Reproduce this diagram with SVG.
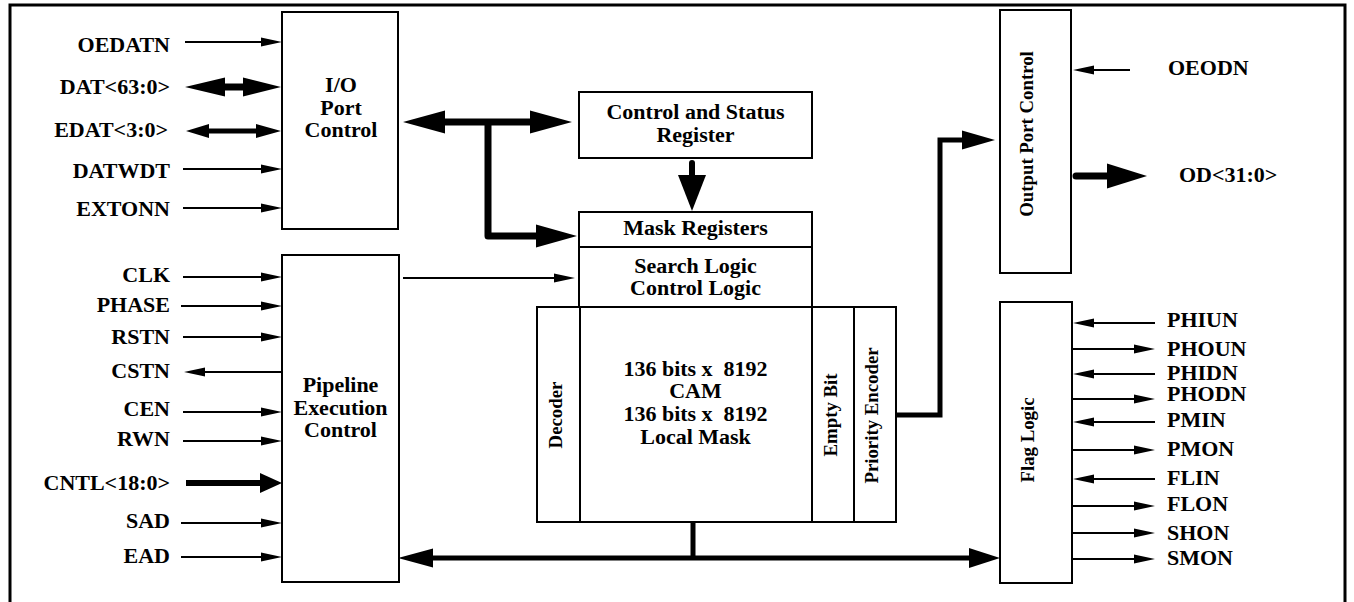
<svg xmlns="http://www.w3.org/2000/svg" width="1354" height="602" viewBox="0 0 1354 602">
<style>
.t{font-family:"Liberation Serif","Times New Roman",serif;font-weight:bold;font-size:20px;fill:#000}
.r{font-family:"Liberation Serif","Times New Roman",serif;font-weight:bold;font-size:18.8px;fill:#000}
.box{fill:#fff;stroke:#000;stroke-width:2}
.thin{fill:none;stroke:#000;stroke-width:2}
.bus{fill:none;stroke:#000}
.head{fill:#000;stroke:none}
</style>
<defs>
<marker id="ah" markerUnits="userSpaceOnUse" markerWidth="21" markerHeight="9" refX="15" refY="4.5" orient="auto" overflow="visible">
<path d="M0,0 L21,4.5 L0,9 Z" fill="#000"/>
</marker>
</defs>
<rect width="1354" height="602" fill="#fff"/>
<path d="M10,602 V5 H1345 V602" fill="none" stroke="#000" stroke-width="3"/>

<g id="io-port-control">
<rect class="box" x="282" y="12" width="116" height="217"/>
<text class="t" text-anchor="middle" transform="translate(341 92) scale(1.1 1)">I/O</text>
<text class="t" text-anchor="middle" transform="translate(341 115) scale(1.1 1)">Port</text>
<text class="t" text-anchor="middle" transform="translate(341 137) scale(1.1 1)">Control</text>
</g>

<g id="pipeline-execution-control">
<rect class="box" x="282" y="255" width="117" height="327"/>
<text class="t" text-anchor="middle" transform="translate(340.5 392) scale(1.1 1)">Pipeline</text>
<text class="t" text-anchor="middle" transform="translate(340.5 415) scale(1.1 1)">Execution</text>
<text class="t" text-anchor="middle" transform="translate(340.5 437) scale(1.1 1)">Control</text>
</g>

<g id="control-status-register">
<rect class="box" x="579" y="92" width="233" height="66"/>
<text class="t" text-anchor="middle" transform="translate(695.5 119) scale(1.1 1)">Control and Status</text>
<text class="t" text-anchor="middle" transform="translate(695.5 142) scale(1.1 1)">Register</text>
</g>

<g id="mask-registers">
<rect class="box" x="579" y="212" width="233" height="35"/>
<text class="t" text-anchor="middle" transform="translate(695.5 235) scale(1.1 1)">Mask Registers</text>
</g>

<g id="search-control-logic">
<rect class="box" x="579" y="247" width="233" height="60"/>
<text class="t" text-anchor="middle" transform="translate(695.5 273) scale(1.1 1)">Search Logic</text>
<text class="t" text-anchor="middle" transform="translate(695.5 295) scale(1.1 1)">Control Logic</text>
</g>

<g id="decoder">
<rect class="box" x="537" y="307" width="43" height="215"/>
<text class="r" text-anchor="middle" transform="translate(562 415) rotate(-90)">Decoder</text>
</g>

<g id="cam-array">
<rect class="box" x="580" y="307" width="232" height="215"/>
<text class="t" text-anchor="middle" xml:space="preserve" style="white-space:pre" transform="translate(695.5 376) scale(1.1 1)">136 bits x  8192</text>
<text class="t" text-anchor="middle" transform="translate(695.5 398) scale(1.1 1)">CAM</text>
<text class="t" text-anchor="middle" xml:space="preserve" style="white-space:pre" transform="translate(695.5 421) scale(1.1 1)">136 bits x  8192</text>
<text class="t" text-anchor="middle" transform="translate(695.5 444) scale(1.1 1)">Local Mask</text>
</g>

<g id="empty-bit">
<rect class="box" x="812" y="307" width="42" height="215"/>
<text class="r" text-anchor="middle" transform="translate(837 415) rotate(-90)">Empty Bit</text>
</g>

<g id="priority-encoder">
<rect class="box" x="854" y="307" width="42" height="215"/>
<text class="r" text-anchor="middle" transform="translate(878 415.5) rotate(-90)">Priority Encoder</text>
</g>

<g id="output-port-control">
<rect class="box" x="1000" y="10" width="71" height="263"/>
<text class="r" text-anchor="middle" transform="translate(1033 134) rotate(-90)">Output Port Control</text>
</g>

<g id="flag-logic">
<rect class="box" x="1000" y="302" width="72" height="281"/>
<text class="r" text-anchor="middle" transform="translate(1034 440) rotate(-90)">Flag Logic</text>
</g>

<g id="labels">
<text class="t" text-anchor="end" transform="translate(170 52) scale(1.1 1)">OEDATN</text>
<text class="t" text-anchor="end" transform="translate(170 94) scale(1.1 1)">DAT&lt;63:0&gt;</text>
<text class="t" text-anchor="end" transform="translate(168 137) scale(1.1 1)">EDAT&lt;3:0&gt;</text>
<text class="t" text-anchor="end" transform="translate(170 178) scale(1.1 1)">DATWDT</text>
<text class="t" text-anchor="end" transform="translate(170 216) scale(1.1 1)">EXTONN</text>
<text class="t" text-anchor="end" transform="translate(170 282) scale(1.1 1)">CLK</text>
<text class="t" text-anchor="end" transform="translate(170 312) scale(1.1 1)">PHASE</text>
<text class="t" text-anchor="end" transform="translate(170 344) scale(1.1 1)">RSTN</text>
<text class="t" text-anchor="end" transform="translate(170 378) scale(1.1 1)">CSTN</text>
<text class="t" text-anchor="end" transform="translate(170 416) scale(1.1 1)">CEN</text>
<text class="t" text-anchor="end" transform="translate(170 446) scale(1.1 1)">RWN</text>
<text class="t" text-anchor="end" transform="translate(170 490) scale(1.1 1)">CNTL&lt;18:0&gt;</text>
<text class="t" text-anchor="end" transform="translate(170 528) scale(1.1 1)">SAD</text>
<text class="t" text-anchor="end" transform="translate(170 563) scale(1.1 1)">EAD</text>
<text class="t" transform="translate(1168 75) scale(1.1 1)">OEODN</text>
<text class="t" transform="translate(1179 182) scale(1.1 1)">OD&lt;31:0&gt;</text>
<text class="t" transform="translate(1167 327) scale(1.1 1)">PHIUN</text>
<text class="t" transform="translate(1167 356) scale(1.1 1)">PHOUN</text>
<text class="t" transform="translate(1167 380) scale(1.1 1)">PHIDN</text>
<text class="t" transform="translate(1167 401) scale(1.1 1)">PHODN</text>
<text class="t" transform="translate(1167 427) scale(1.1 1)">PMIN</text>
<text class="t" transform="translate(1167 456) scale(1.1 1)">PMON</text>
<text class="t" transform="translate(1167 485) scale(1.1 1)">FLIN</text>
<text class="t" transform="translate(1167 511) scale(1.1 1)">FLON</text>
<text class="t" transform="translate(1167 540) scale(1.1 1)">SHON</text>
<text class="t" transform="translate(1167 565) scale(1.1 1)">SMON</text>
</g>

<g id="connectors">
<path class="thin" marker-end="url(#ah)" d="M185,42 H276"/>
<path class="thin" marker-end="url(#ah)" d="M183,169 H276"/>
<path class="thin" marker-end="url(#ah)" d="M183,208 H276"/>
<path class="thin" marker-end="url(#ah)" d="M183,277 H276"/>
<path class="thin" marker-end="url(#ah)" d="M181,306 H276"/>
<path class="thin" marker-end="url(#ah)" d="M183,337 H276"/>
<path class="thin" marker-end="url(#ah)" d="M282,372 H190"/>
<path class="thin" marker-end="url(#ah)" d="M183,412 H276"/>
<path class="thin" marker-end="url(#ah)" d="M183,441 H276"/>
<path class="thin" marker-end="url(#ah)" d="M181,523 H276"/>
<path class="thin" marker-end="url(#ah)" d="M181,557 H276"/>
<path class="thin" marker-end="url(#ah)" d="M403,278 H569"/>
<path class="thin" marker-end="url(#ah)" d="M1130,70 H1079"/>
<path class="thin" marker-end="url(#ah)" d="M1155,323 H1079"/>
<path class="thin" marker-end="url(#ah)" d="M1072,349 H1149"/>
<path class="thin" marker-end="url(#ah)" d="M1155,374 H1079"/>
<path class="thin" marker-end="url(#ah)" d="M1072,399 H1149"/>
<path class="thin" marker-end="url(#ah)" d="M1155,422 H1079"/>
<path class="thin" marker-end="url(#ah)" d="M1072,450 H1149"/>
<path class="thin" marker-end="url(#ah)" d="M1155,479 H1079"/>
<path class="thin" marker-end="url(#ah)" d="M1072,506 H1149"/>
<path class="thin" marker-end="url(#ah)" d="M1072,533 H1149"/>
<path class="thin" marker-end="url(#ah)" d="M1072,559 H1149"/>

<path class="bus" stroke-width="7" d="M220,87 H250"/>
<polygon class="head" points="185,87 225,77.5 225,96.5"/>
<polygon class="head" points="281,87 243,77.5 243,96.5"/>
<path class="bus" stroke-width="5" d="M205,131 H260"/>
<polygon class="head" points="186,131 209,124 209,138"/>
<polygon class="head" points="281,131 256,124 256,138"/>
<path class="bus" stroke-width="6" d="M186,483 H265"/>
<polygon class="head" points="282,483 260,473 260,493"/>
<path class="bus" stroke-width="7" d="M440,122 H535"/>
<path class="bus" stroke-width="7" stroke-linejoin="round" d="M488,122 V236 H540"/>
<polygon class="head" points="403,122 445,110.5 445,133.5"/>
<polygon class="head" points="572,122 530,110.5 530,133.5"/>
<polygon class="head" points="577,236 536,224.5 536,247.5"/>
<path class="bus" stroke-width="6" stroke-linecap="round" d="M692,163 V180"/>
<polygon class="head" points="692,211 678,175 706,175"/>
<path class="bus" stroke-width="5" d="M896,415 H940 V140 H965"/>
<polygon class="head" points="995,140 962,130.5 962,149.5"/>
<path class="bus" stroke-width="7" stroke-linecap="round" d="M1076,176 H1110"/>
<polygon class="head" points="1147,176 1107,163.5 1107,188.5"/>
<path class="bus" stroke-width="5" d="M430,558 H972"/>
<path class="bus" stroke-width="5" d="M693,522 V558"/>
<polygon class="head" points="398,558 433,548.5 433,567.5"/>
<polygon class="head" points="1000,558 969,548 969,568"/>
</g>
</svg>
